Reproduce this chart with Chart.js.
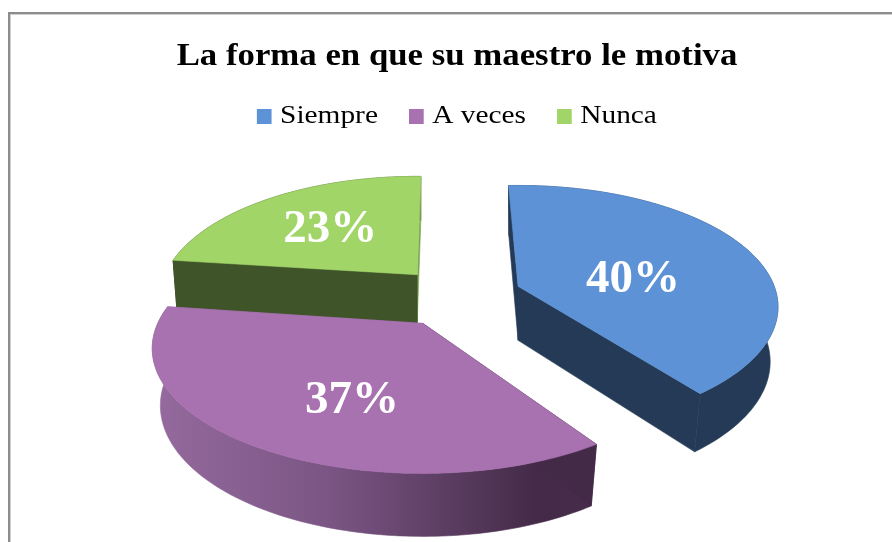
<!DOCTYPE html>
<html><head><meta charset="utf-8">
<style>
html,body{margin:0;padding:0;background:#fff;overflow:hidden}
#frame{position:absolute;left:8px;top:12px;width:900px;height:540px;border-left:2px solid #8c8c8c;border-top:2px solid #8c8c8c;box-shadow:inset 1px 1px 0 #d0d0d0}
#wrap{position:absolute;left:0;top:0;width:892px;height:542px}
</style>
<script src="https://cdn.jsdelivr.net/npm/chart.js@4"></script>
</head><body>
<div id="frame"></div>
<div id="wrap"><canvas id="c" width="892" height="542"></canvas></div>
<script>
const chartTitle = 'La forma en que su maestro le motiva';
const categories = ['Siempre', 'A veces', 'Nunca'];
const percentages = [40, 37, 23];
const topColors = ['#5d93d6', '#a871b0', '#a1d568'];
const sideColors = ['#243a56', '#8f669b', '#40542a'];

// 3D look of the pie (style only)
const GROUND_SQUASH = 0.47;
const perspective = [0.17, 0.2, 0.2];
const ryScale = [118, 120, 118];
const taper = [0.97, 0.97, 0.985];
const explode = [64.6, 69, 59];
const apexNudge = [-2, -3, -3];
const radiusScale = [0.985, 1.02, 0.97];
const depth = [54, 56, 48];
const angleTrim = [[-1.5, -1], [4, 2], [1, 2]];
const labelShift = [[115, -6], [-71, 77], [-87, -45]];

function geom(el, i) {
  const p = el.getProps(['x', 'y', 'startAngle', 'endAngle', 'outerRadius'], true);
  const mid = (p.startAngle + p.endAngle) / 2;
  const ax = p.x + explode[i] * Math.cos(mid);
  const ay = p.y + explode[i] * Math.sin(mid) * GROUND_SQUASH + apexNudge[i];
  const R = p.outerRadius * radiusScale[i];
  const a0 = p.startAngle + angleTrim[i][0] * Math.PI / 180;
  const a1 = p.endAngle + angleTrim[i][1] * Math.PI / 180;
  const pt = (ang, low) => {
    const u = Math.cos(ang), v = Math.sin(ang), f = 1 / (1 - perspective[i] * v);
    let x = ax + R * u * f, y = ay + ryScale[i] * v * f;
    if (low) { x = ax + (x - ax) * taper[i]; y += depth[i] * (1 + 0.5 * (f - 1)); }
    return [x, y];
  };
  const rim = low => {
    const a = [], n = 120;
    for (let k = 0; k <= n; k++) a.push(pt(a0 + (a1 - a0) * k / n, low));
    return a;
  };
  return {ax, ay, mid, rim, d: depth[i]};
}
function fillPoly(ctx, pts, fill) {
  ctx.beginPath();
  pts.forEach((q, k) => k ? ctx.lineTo(q[0], q[1]) : ctx.moveTo(q[0], q[1]));
  ctx.closePath();
  ctx.fillStyle = fill; ctx.fill();
  ctx.strokeStyle = fill; ctx.lineWidth = 0.6; ctx.stroke();
}
const pie3d = {
  id: 'pie3d',
  beforeDraw(chart) {
    if (chart.$wrapped) return;
    chart.$wrapped = true;
    const stretch = (box, sx, textShift, dx) => {
      const orig = box.draw.bind(box);
      box.draw = function (a) {
        const c = chart.ctx, cx = (box.left + box.right) / 2;
        const ft = c.fillText;
        c.save(); c.translate(cx + dx, 0); c.scale(sx, 1); c.translate(-cx, 0);
        c.fillText = function (t, x, y) { ft.call(c, t, x - textShift, y); };
        orig(a);
        delete c.fillText;
        c.restore();
      };
    };
    stretch(chart.titleBlock, 1.087, 0, 0);
    stretch(chart.legend, 1.13, 5.5, 3);
  },
  beforeDatasetDraw(chart, args) {
    const ctx = chart.ctx, arcs = args.meta.data;
    const order = arcs.map((e, i) => i).sort((a, b) =>
      Math.sin(geom(arcs[a], a).mid) - Math.sin(geom(arcs[b], b).mid));
    ctx.save();
    order.forEach(i => {
      const g = geom(arcs[i], i), top = g.rim(false), low = g.rim(true);
      const apexTop = [g.ax, g.ay], apexLow = [g.ax, g.ay + g.d];
      let side = sideColors[i];
      if (i === 1) {
        const xs = low.map(q => q[0]);
        const gr = ctx.createLinearGradient(Math.min(...xs), 0, Math.max(...xs), 0);
        gr.addColorStop(0, '#94699d'); gr.addColorStop(0.4, '#7a5583');
        gr.addColorStop(0.88, '#432a47'); gr.addColorStop(1, '#472d4b');
        side = gr;
      }
      // rim
      fillPoly(ctx, top.concat(low.slice().reverse()), side);
      // cut faces
      fillPoly(ctx, [apexTop, top[0], low[0], apexLow], i === 1 ? '#432a47' : sideColors[i]);
      fillPoly(ctx, [apexTop, top[top.length - 1], low[low.length - 1], apexLow],
        i === 2 ? '#7ba551' : (i === 1 ? '#94699d' : sideColors[i]));
      if (i === 2) fillPoly(ctx, [apexTop, [g.ax, g.ay + g.d], low[0], top[0]], sideColors[i]);
      // top face
      fillPoly(ctx, [apexTop].concat(top), topColors[i]);
    });
    ctx.restore();
    return false;
  },
  afterDatasetsDraw(chart) {
    const ctx = chart.ctx, arcs = chart.getDatasetMeta(0).data;
    ctx.save();
    ctx.fillStyle = '#fff';
    ctx.font = 'bold 47px "Liberation Serif"';
    ctx.textAlign = 'center'; ctx.textBaseline = 'middle';
    arcs.forEach((el, i) => {
      const g = geom(el, i);
      ctx.fillText(percentages[i] + '%', g.ax + labelShift[i][0], g.ay + labelShift[i][1]);
    });
    ctx.restore();
  }
};
new Chart(document.getElementById('c'), {
  type: 'pie',
  data: {labels: categories, datasets: [{
    data: percentages, backgroundColor: topColors, borderWidth: 0, radius: 260, clip: false
  }]},
  options: {
    responsive: false, animation: false, rotation: -1,
    layout: {padding: {left: 22, top: 0, right: 0, bottom: 85}},
    plugins: {
      tooltip: {enabled: false},
      title: {display: true, text: chartTitle, color: '#000',
        font: {family: '"Liberation Serif"', size: 32, weight: 'bold'},
        padding: {top: 38, bottom: 5}},
      legend: {position: 'top',
        labels: {color: '#000', boxWidth: 13, boxHeight: 15, padding: 22,
          font: {family: '"Liberation Serif"', size: 26}}}
    }
  },
  plugins: [pie3d]
});
</script>
</body></html>
